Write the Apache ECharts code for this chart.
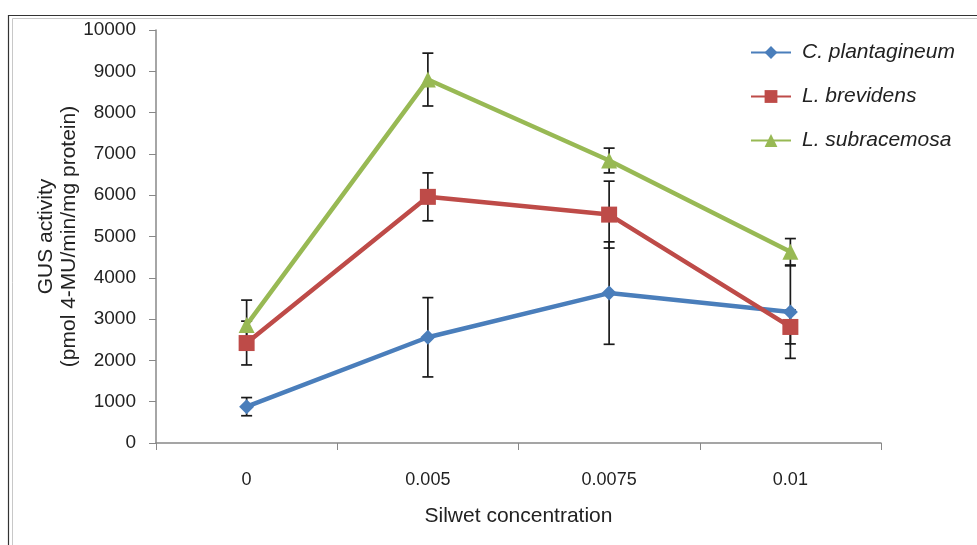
<!DOCTYPE html>
<html><head><meta charset="utf-8">
<script src="https://cdn.jsdelivr.net/npm/echarts@6/dist/echarts.min.js"></script>
<style>html,body{margin:0;padding:0;background:#fff}#c{width:977px;height:545px}</style>
</head><body><div id="c"></div>
<script>
const categories = ['0', '0.005', '0.0075', '0.01'];
const seriesNames = ['C. plantagineum', 'L. brevidens', 'L. subracemosa'];
const cPlantagineum = [880, 2560, 3630, 3170];
const cPlantagineumErr = [220, 960, 1240, 1120];
const lBrevidens = [2420, 5960, 5530, 2810];
const lBrevidensErr = [530, 580, 810, 410];
const lSubracemosa = [2860, 8800, 6840, 4630];
const lSubracemosaErr = [600, 640, 300, 320];
const yTicks = [0, 1000, 2000, 3000, 4000, 5000, 6000, 7000, 8000, 9000, 10000];

const colors = ['#4A7EBB', '#BE4B48', '#98B954'];
const symbols = ['diamond', 'rect', 'triangle'];
const values = [cPlantagineum, lBrevidens, lSubracemosa];
const errs = [cPlantagineumErr, lBrevidensErr, lSubracemosaErr];

const chart = echarts.init(document.getElementById('c'), null, {renderer: 'canvas'});
const font = '"Liberation Sans", Arial, sans-serif';

function errSeries(i) {
  return {
    type: 'custom',
    name: seriesNames[i] + ' err',
    z: 5,
    data: values[i].map((v, k) => [k, v - errs[i][k], v + errs[i][k]]),
    renderItem: function (params, api) {
      const x = api.value(0);
      const lo = api.coord([x, api.value(1)]);
      const hi = api.coord([x, api.value(2)]);
      const w = 5.5;
      const st = {stroke: '#1a1a1a', lineWidth: 1.7};
      return {type: 'group', children: [
        {type: 'line', shape: {x1: hi[0], y1: hi[1], x2: lo[0], y2: lo[1]}, style: st},
        {type: 'line', shape: {x1: hi[0] - w, y1: hi[1], x2: hi[0] + w, y2: hi[1]}, style: st},
        {type: 'line', shape: {x1: lo[0] - w, y1: lo[1], x2: lo[0] + w, y2: lo[1]}, style: st}
      ]};
    },
    silent: true
  };
}

const lineSeries = values.map((vals, i) => ({
  type: 'line',
  name: seriesNames[i],
  data: vals,
  symbol: symbols[i],
  symbolSize: i === 0 ? 15 : 16,
  showAllSymbol: true,
  z: 10,
  lineStyle: {color: colors[i], width: 4.5},
  itemStyle: {color: colors[i]},
  animation: false
}));

chart.setOption({
  animation: false,
  backgroundColor: '#fff',
  graphic: [
    {type: 'rect', shape: {x: 8.5, y: 15.5, width: 975, height: 540}, style: {fill: null, stroke: '#333', lineWidth: 1.2}},
    {type: 'rect', shape: {x: 12.5, y: 18.5, width: 975, height: 540}, style: {fill: null, stroke: '#c8c8c8', lineWidth: 1}}
  ],
  legend: {
    data: seriesNames,
    orient: 'vertical',
    left: 745,
    top: 37,
    itemGap: 23,
    itemWidth: 40,
    itemHeight: 16,
    textStyle: {fontFamily: font, fontSize: 21, fontStyle: 'italic', color: '#222', padding: [0, 0, 0, 6]}
  },
  grid: {left: 156, right: 96, top: 30, bottom: 102},
  xAxis: {
    type: 'category',
    data: categories,
    boundaryGap: true,
    name: 'Silwet concentration',
    nameLocation: 'middle',
    nameGap: 63,
    nameTextStyle: {fontFamily: font, fontSize: 21, color: '#222'},
    axisLine: {lineStyle: {color: '#888', width: 1.5}},
    axisTick: {show: true, alignWithLabel: false, length: 7, lineStyle: {color: '#888'}},
    axisLabel: {fontFamily: font, fontSize: 18, color: '#222', margin: 28},
    splitLine: {show: false}
  },
  yAxis: {
    type: 'value',
    min: 0,
    max: 10000,
    interval: 1000,
    name: 'GUS activity\n(pmol 4-MU/min/mg protein)',
    nameLocation: 'middle',
    nameGap: 75,
    nameMoveOverlap: false,
    nameRotate: 90,
    nameTextStyle: {fontFamily: font, fontSize: 21, color: '#222', lineHeight: 23},
    axisLine: {show: true, lineStyle: {color: '#888', width: 1.5}},
    axisTick: {show: true, length: 7, lineStyle: {color: '#888'}},
    axisLabel: {fontFamily: font, fontSize: 19, color: '#222', margin: 20,
      formatter: v => yTicks.includes(v) ? String(v) : ''},
    splitLine: {show: false}
  },
  series: [...lineSeries, errSeries(0), errSeries(1), errSeries(2)]
});
</script>
</body></html>
